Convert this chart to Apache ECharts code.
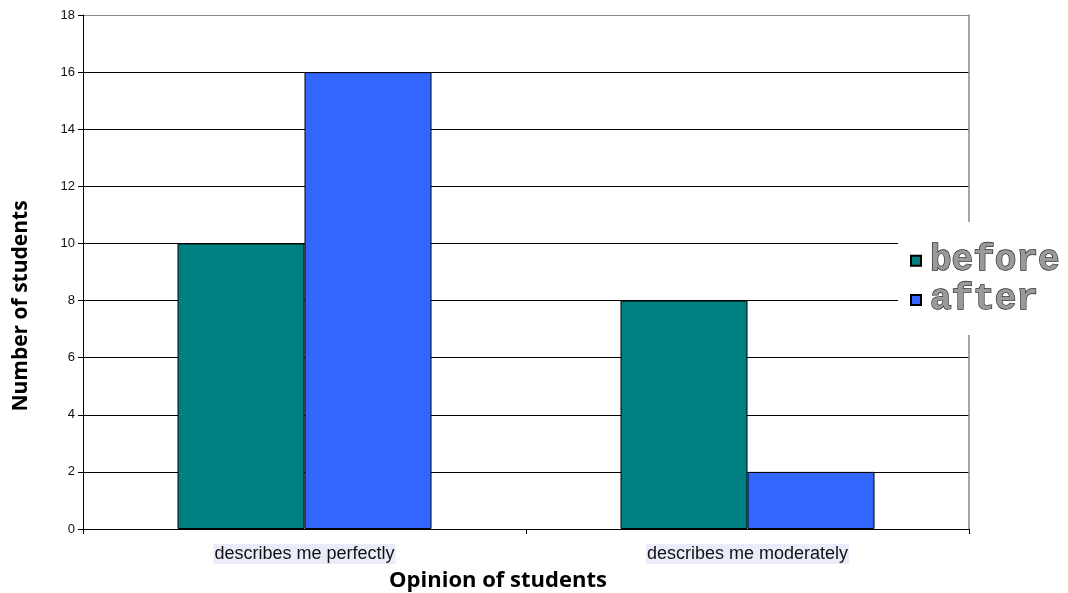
<!DOCTYPE html>
<html>
<head>
<meta charset="utf-8">
<script src="https://cdn.jsdelivr.net/npm/echarts@6/dist/echarts.min.js"></script>
<style>
  html, body { margin: 0; padding: 0; background: #fff; }
  #chart { width: 1068px; height: 593px; }
</style>
</head>
<body>
<div id="chart"></div>
<script>
// Survey answers before and after, by opinion category
const categories = ['describes me perfectly', 'describes me moderately'];
const beforeValues = [10, 8];
const afterValues = [16, 2];
const seriesNames = ['before', 'after'];
const yTicks = { min: 0, max: 18, interval: 2 };

const chart = echarts.init(document.getElementById('chart'));

// grid lines: black, except the top border which is grey
const splitColors = ['#000', '#000', '#000', '#000', '#000', '#000', '#000', '#000', '#000', '#888'];

chart.setOption({
  animation: false,
  backgroundColor: '#fff',
  grid: { left: 83, right: 99, top: 15, bottom: 64, containLabel: false, outerBoundsMode: 'none' },
  graphic: [{
    type: 'rect',
    left: 898, top: 222,
    shape: { width: 170, height: 113 },
    style: { fill: '#fff' },
    z: 10
  }],
  legend: {
    data: seriesNames,
    orient: 'vertical',
    left: 905, top: 237,
    icon: 'rect',
    itemWidth: 10, itemHeight: 10,
    itemGap: 2,
    z: 11,
    textStyle: {
      fontFamily: 'Liberation Mono',
      fontWeight: 'bold',
      fontSize: 36,
      lineHeight: 30,
      padding: [0, 0, 0, 4],
      color: '#9a9a9a',
      textBorderColor: '#2a2a2a',
      textBorderWidth: 1.3
    }
  },
  xAxis: {
    type: 'category',
    data: categories,
    name: 'Opinion of students',
    nameLocation: 'middle',
    nameGap: 41,
    nameTextStyle: {
      fontFamily: 'Open Sans', fontWeight: 'bold', fontSize: 22, color: '#000',
      padding: [0, 56, 0, 0]
    },
    axisLine: { lineStyle: { color: '#000', width: 1 } },
    axisTick: { show: true, length: 5, lineStyle: { color: '#000' } },
    axisLabel: {
      margin: 15,
      fontFamily: 'Liberation Sans',
      fontSize: 18,
      color: '#111',
      backgroundColor: '#eaedf9',
      padding: [1, 1, 1, 1]
    }
  },
  yAxis: [{
    type: 'value',
    min: yTicks.min, max: yTicks.max, interval: yTicks.interval,
    name: 'Number of students',
    nameLocation: 'middle',
    nameGap: 51,
    nameTextStyle: {
      fontFamily: 'Open Sans', fontWeight: 'bold', fontSize: 21, color: '#000',
      padding: [0, 68, 0, 0]
    },
    axisLine: { show: true, lineStyle: { color: '#000', width: 1 } },
    axisTick: { show: true, length: 5, lineStyle: { color: '#000' } },
    axisLabel: { margin: 8, fontFamily: 'Liberation Sans', fontSize: 13, color: '#111' },
    splitLine: { show: true, lineStyle: { color: splitColors, width: 1 } }
  }, {
    type: 'value',
    position: 'right',
    min: yTicks.min, max: yTicks.max, interval: yTicks.interval,
    axisLine: { show: true, lineStyle: { color: '#888', width: 1.5 } },
    axisTick: { show: false },
    axisLabel: { show: false },
    splitLine: { show: false }
  }],
  series: [{
    name: seriesNames[0],
    type: 'bar',
    data: beforeValues,
    barWidth: 127,
    barGap: '0%',
    itemStyle: { color: '#008080', borderColor: '#000', borderWidth: 1 }
  }, {
    name: seriesNames[1],
    type: 'bar',
    data: afterValues,
    barWidth: 127,
    barGap: '0%',
    itemStyle: { color: '#3366ff', borderColor: '#000', borderWidth: 1 }
  }]
});
</script>
</body>
</html>
